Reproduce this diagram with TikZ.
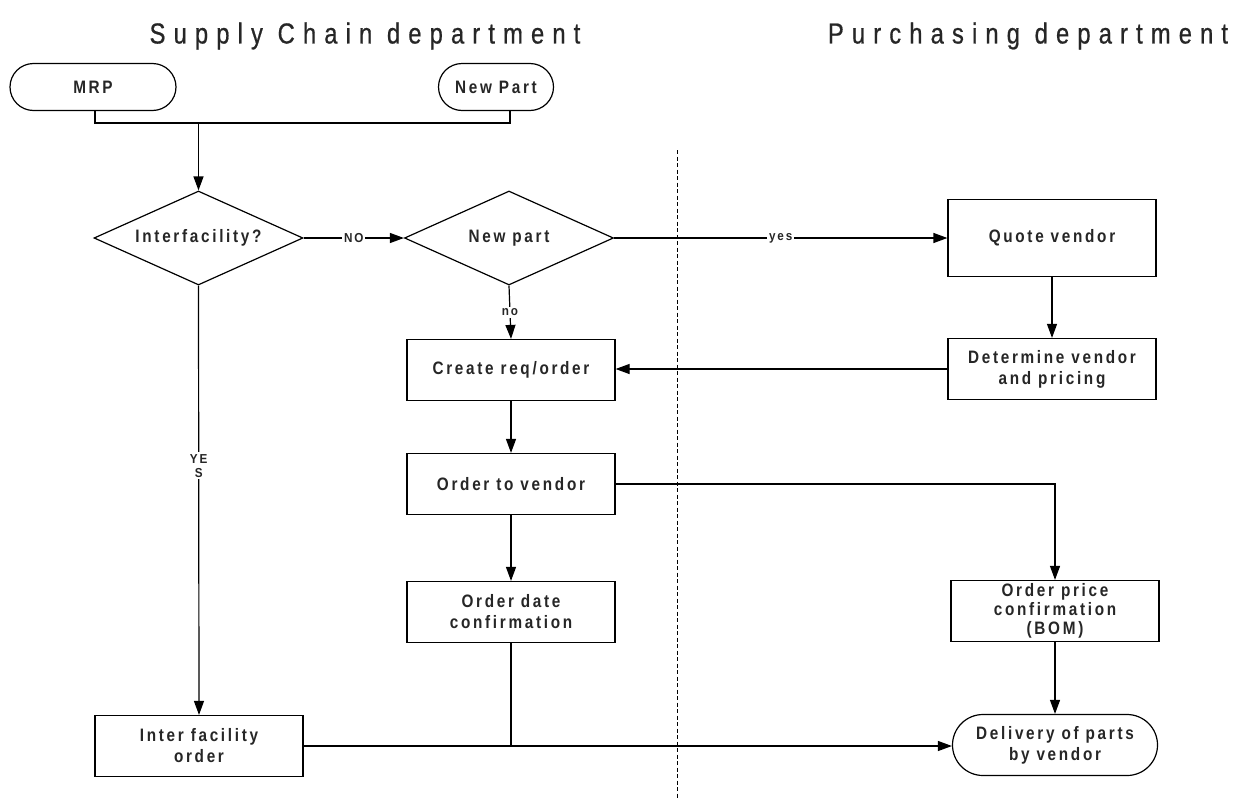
\documentclass[tikz,border=0pt]{standalone}
\usepackage{fontspec}
\setmainfont{Liberation Sans}
\newfontfamily\boxfont{Liberation Sans}[FakeStretch=0.85,LetterSpace=15]
\newfontfamily\tagfont{Liberation Sans}[FakeStretch=0.9,LetterSpace=14]
\newfontfamily\titlefont{Liberation Sans}[FakeStretch=0.82,LetterSpace=28,FakeBold=0.6]
\usetikzlibrary{arrows.meta,shapes.geometric,shapes.misc}

\tikzset{
  base/.style={draw=black, line width=1.2pt, text=black!85, align=center, inner sep=2pt,
    font=\boxfont\bfseries\fontsize{18}{21}\selectfont},
  procbox/.style={base, rectangle, minimum width=208pt, minimum height=61pt},
  termnode/.style={base, rounded rectangle, minimum height=47pt},
  decide/.style={base, diamond, shape aspect=2.2, minimum width=209pt, minimum height=94pt, inner sep=0pt},
  flow/.style={line width=1.2pt, -{Triangle[length=14pt,width=10pt]}},
  link/.style={line width=1.2pt},
  tag/.style={font=\tagfont\bfseries\fontsize{13}{14}\selectfont, fill=white, inner sep=2pt,
    text=black!85, align=center},
  lane/.style={line width=0.8pt, dash pattern=on 4pt off 2.5pt},
  heading/.style={font=\titlefont\fontsize{29}{34}\selectfont, text=black!85},
}

\begin{document}
\begin{tikzpicture}[x=1pt,y=-1pt]
  \useasboundingbox[fill=white] (0,0) rectangle (1260,798);

  % department headings and lane divider
  \node[heading] (hsc) at (365,36) {Supply Chain department};
  \node[heading] (hpd) at (1028,36) {Purchasing department};
  \coordinate (laneTop) at (677,150);
  \coordinate (laneBot) at (677,798);
  \draw[lane] (laneTop) -- (laneBot);

  % start points
  \node[termnode, minimum width=170pt] (mrp) at (93,87) {MRP};
  \node[termnode, minimum width=119pt] (newp) at (496,87) {New Part};

  % decisions
  \node[decide] (ifac) at (198.5,238) {Interfacility?};
  \node[decide] (npd) at (509,238) {New part};

  % process steps
  \node[procbox, minimum height=77pt] (quote) at (1052,238) {Quote vendor};
  \node[procbox] (det) at (1052,369) {Determine vendor\\and pricing};
  \node[procbox] (create) at (511,370) {Create req/order};
  \node[procbox] (ov) at (511,484) {Order to vendor};
  \node[procbox] (od) at (511,612) {Order date\\confirmation};
  \node[procbox, font=\boxfont\bfseries\fontsize{18}{19}\selectfont] (op) at (1055,611) {Order price\\confirmation\\(BOM)};
  \node[procbox] (io) at (199,746) {Inter facility\\order};
  \node[base, rounded rectangle, minimum width=209pt, minimum height=61pt] (del) at (1055,745) {Delivery of parts\\by vendor};

  % merge of the two start points
  \coordinate (jl) at (95,123);
  \coordinate (jr) at (510,123);
  \coordinate (jm) at (198.5,123);
  \draw[link] (mrp.south -| jl) -- (jl) -- (jr) -- (newp.south -| jr);
  \draw[flow] (jm) -- (ifac.north);

  % decision branches
  \draw[flow] (ifac.east) -- node[tag] {NO} (npd.west);
  \draw[flow] (npd.east) -- node[tag] {yes} (quote.west);
  \draw[flow] (npd.south) -- node[tag] {no} (create.north);
  \draw[flow] (ifac.south) -- node[tag, pos=0.42] {YE\\S} (io.north);

  % purchasing flow
  \draw[flow] (quote.south) -- (det.north);
  \draw[flow] (det.west) -- (create.east |- det.west);

  % ordering flow
  \draw[flow] (create.south) -- (ov.north);
  \draw[flow] (ov.south) -- (od.north);
  \draw[flow] (ov.east) -| (op.north);
  \draw[flow] (op.south) -- (del.north);

  % delivery
  \draw[flow] (io.east) -- (del.west |- io.east);
  \draw[link] (od.south) -- (od.south |- io.east);
\end{tikzpicture}
\end{document}
